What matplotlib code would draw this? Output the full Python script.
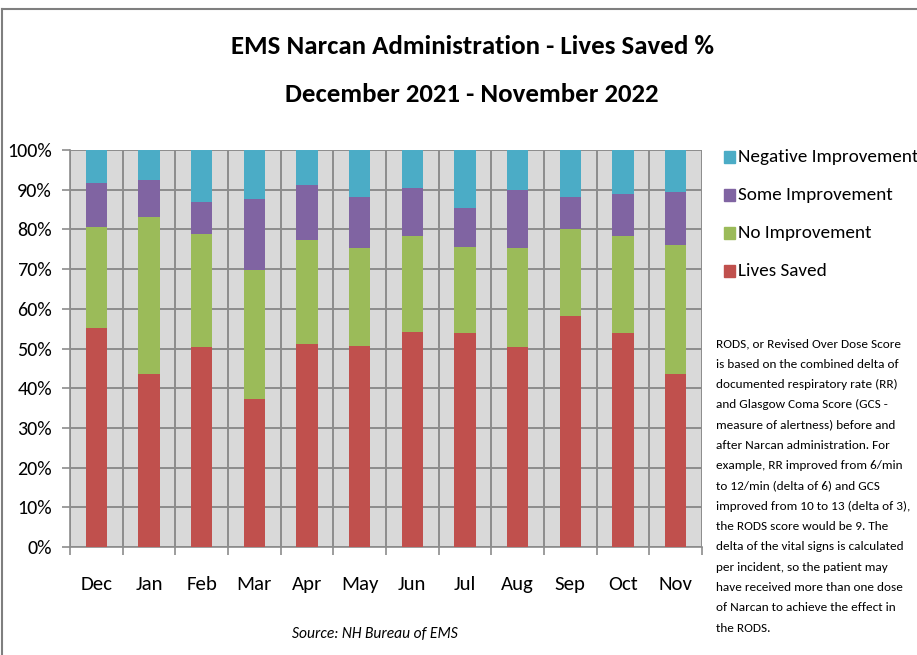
import matplotlib
matplotlib.use("Agg")
import matplotlib.pyplot as plt
import numpy as np
from matplotlib.patches import Rectangle
from matplotlib.lines import Line2D

months = ["Dec", "Jan", "Feb", "Mar", "Apr", "May", "Jun", "Jul", "Aug", "Sep", "Oct", "Nov"]
lives_saved = [55.1, 43.7, 50.3, 37.4, 51.2, 50.7, 54.2, 53.9, 50.3, 58.3, 53.9, 43.7]
no_improvement = [25.4, 39.4, 28.5, 32.4, 26.2, 24.5, 24.1, 21.7, 24.9, 21.7, 24.4, 32.4]
some_improvement = [11.2, 9.4, 8.0, 17.9, 13.9, 12.9, 12.1, 9.8, 14.6, 8.1, 10.7, 13.3]
negative_improvement = [8.3, 7.5, 13.2, 12.3, 8.7, 11.9, 9.6, 14.6, 10.2, 11.9, 11.0, 10.6]

series = [
    ("Lives Saved", lives_saved, "#C0504D"),
    ("No Improvement", no_improvement, "#9BBB59"),
    ("Some Improvement", some_improvement, "#8064A2"),
    ("Negative Improvement", negative_improvement, "#4BACC6"),
]

FONT = ["Carlito", "DejaVu Sans"]
plt.rcParams["font.family"] = FONT

W, H = 917, 655
fig = plt.figure(figsize=(W / 100, H / 100), dpi=100)
renderer = fig.canvas.get_renderer()


def fit(t, target_px):
    """scale a text's font size so that its rendered width matches target_px"""
    t.set_fontsize(10)
    w = t.get_window_extent(renderer=renderer).width
    t.set_fontsize(10 * target_px / w)
    return t


# outer frame
fig.add_artist(Line2D([2 / W, 1], [1 - 9 / H, 1 - 9 / H], color="#7f7f7f", lw=1.5))
fig.add_artist(Line2D([2 / W, 2 / W], [0, 1 - 9 / H], color="#7f7f7f", lw=1.5))

ax = fig.add_axes([70 / W, (H - 547) / H, 632 / W, 397 / H])
ax.set_facecolor("#D9D9D9")
x = np.arange(len(months))
bottom = np.zeros(len(months))
for name, vals, col in series:
    ax.bar(x, vals, width=0.41, bottom=bottom, color=col, label=name, zorder=3)
    bottom += np.array(vals)

ax.set_xlim(-0.5, len(months) - 0.5)
ax.set_ylim(0, 100)
ax.set_yticks(np.arange(0, 101, 10))
ax.set_yticklabels([f"{v}%" for v in range(0, 101, 10)], fontsize=14.5)
ax.set_xticks(x)
ax.set_xticklabels(months, fontsize=15)
ax.tick_params(axis="x", length=0, pad=21)
ax.set_xticks(np.arange(-0.5, len(months), 1), minor=True)
ax.tick_params(axis="x", which="minor", length=6, color="#8c8c8c", width=1.2, direction="out")
ax.tick_params(axis="y", length=6, color="#8c8c8c", width=1.2, pad=7)
ax.grid(axis="y", color="#8c8c8c", lw=1.4, zorder=1)
ax.grid(axis="x", which="minor", color="#8c8c8c", lw=1.4, zorder=1)
ax.set_axisbelow(True)
for s in ["top", "right"]:
    ax.spines[s].set_visible(False)
ax.spines["left"].set_color("#8c8c8c")
ax.spines["bottom"].set_color("#8c8c8c")
ax.spines["left"].set_linewidth(1.2)
ax.spines["bottom"].set_linewidth(1.2)

t1 = fig.text(472 / W, 1 - 47 / H, "EMS Narcan Administration - Lives Saved %", ha="center", va="center",
              fontweight="bold")
fit(t1, 482)
t2 = fig.text(472 / W, 1 - 94 / H, "December 2021 - November 2022", ha="center", va="center",
              fontweight="bold", fontsize=t1.get_fontsize())

# legend
leg_y = [157, 195, 233, 271]
for (name, vals, col), yy in zip(series[::-1], leg_y):
    fig.add_artist(Rectangle((724 / W, 1 - (yy + 6) / H), 11 / W, 12 / H, color=col, transform=fig.transFigure))
    fig.text(738 / W, 1 - yy / H, name, ha="left", va="center", fontsize=13.8)

note_lines = ["RODS, or Revised Over Dose Score",
              "is based on the combined delta of",
              "documented respiratory rate (RR)",
              "and Glasgow Coma Score (GCS -",
              "measure of alertness) before and",
              "after Narcan administration. For",
              "example, RR improved from 6/min",
              "to 12/min (delta of 6) and GCS",
              "improved from 10 to 13 (delta of 3),",
              "the RODS score would be 9. The",
              "delta of the vital signs is calculated",
              "per incident, so the patient may",
              "have received more than one dose",
              "of Narcan to achieve the effect in",
              "the RODS."]
probe = fig.text(0, 0, note_lines[1])
fit(probe, 183)
note_fs = probe.get_fontsize()
probe.remove()
for i, line in enumerate(note_lines):
    fig.text(716 / W, 1 - (344 + 20.3 * i) / H, line, ha="left", va="center", fontsize=note_fs)

src = fig.text(375 / W, 1 - 634 / H, "Source: NH Bureau of EMS", ha="center", va="center",
               style="italic")
fit(src, 166)

fig.savefig("out.png", dpi=100)
